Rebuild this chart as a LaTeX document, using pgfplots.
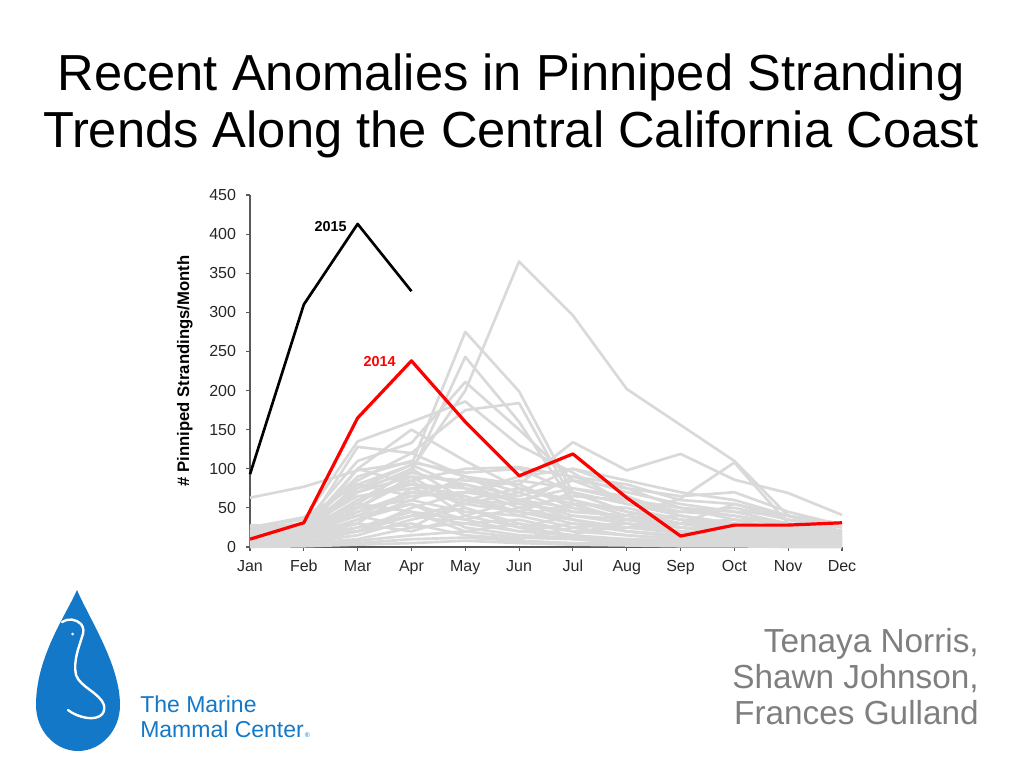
\documentclass[border=0pt]{standalone}
\usepackage{fontspec}
\setmainfont{Liberation Sans}
\usepackage{pgfplots}
\usepackage{pgfplotstable}
\pgfplotsset{compat=1.18}

\definecolor{gline}{HTML}{D9D9D9}
\definecolor{axgray}{HTML}{595959}
\definecolor{logoblue}{HTML}{1478C8}
\definecolor{authgray}{HTML}{7F7F7F}

% one row per year (gray background years), Jan..Dec strandings
\pgfplotstableread{
yr  Jan Feb Mar Apr May Jun Jul Aug Sep Oct Nov Dec
g1  20  25  55  100 200 365 296 202 156 110 40  20
g2  63  77  98  108 95  100 70  45  35  30  22  15
g3  12  18  75  105 275 199 69  45  30  22  15  8
g4  8   15  60  95  243 160 55  35  25  18  10  5
g5  22  30  110 133 211 150 85  60  45  40  30  18
g6  25  35  135 160 186 130 95  55  40  30  25  15
g7  15  22  70  90  85  80  134 98  119 86  69  41
g8  18  28  85  120 175 184 60  40  30  25  20  12
g9  10  20  128 120 90  80  50  35  25  20  15  10
g10 10  15  100 150 110 75  60  45  30  20  12  8
g11 12  18  40  70  60  55  45  40  62  108 30  20
g12 20  30  50  85  100 102 90  70  55  45  30  20
g13 15  25  90  110 90  70  100 75  50  40  25  15
g14 8   12  30  75  80  55  90  80  60  55  35  20
g15 5   10  20  50  70  85  75  65  40  30  20  10
g16 25  38  80  65  70  60  40  30  25  20  15  10
g17 10  5   20  40  55  45  30  25  20  15  10  5
g18 3   5   10  25  30  20  15  10  8   5   3   2
g19 15  20  60  80  75  50  35  20  15  10  8   5
g20 20  15  35  60  45  40  55  50  35  25  18  12
g21 5   8   25  40  30  35  20  15  10  8   5   5
g22 12  10  45  70  65  40  25  30  20  15  12  8
g23 2   3   8   15  20  12  10  5   5   3   2   2
g24 18  22  70  100 60  45  70  55  45  50  35  25
g25 7   12  50  90  50  30  20  25  30  35  20  12
g26 28  25  40  55  35  50  65  60  50  45  40  30
g27 14  18  30  20  40  60  35  20  15  20  25  20
g28 4   6   15  35  50  25  40  35  25  15  10  8
g29 22  25  65  75  55  70  45  40  30  25  20  15
g30 9   14  55  45  35  20  30  20  12  10  6   4
g31 16  20  80  105 75  60  50  35  30  55  40  25
g32 1   2   5   10  12  8   5   4   3   2   1   1
g33 11  18  40  25  60  75  55  30  20  12  10  8
g34 6   9   35  55  25  15  12  10  8   20  15  10
g35 20  26  75  95  80  65  85  75  65  70  45  28
g36 13  16  20  30  15  10  25  15  10  5   5   3
g37 24  30  50  60  90  60  75  60  50  35  30  20
g38 3   8   60  85  40  25  15  35  40  25  20  18
g39 17  23  100 80  65  45  35  25  18  15  12  10
g40 10  14  25  45  20  30  10  8   6   10  8   6
g41 0   1   3   5   8   5   3   2   1   1   0   0
g42 19  24  45  65  70  90  100 85  70  60  40  25
}\raw
\pgfplotstabletranspose[colnames from=yr]\data\raw

\begin{document}
\begin{tikzpicture}[x=0.75pt,y=0.75pt]
\useasboundingbox (0,0) rectangle (1020,765);

% ---------- title ----------
\node[anchor=base, inner sep=0pt, font=\fontsize{38}{42}\selectfont] at (511,674)
  {Recent Anomalies in Pinniped Stranding};
\node[anchor=base, inner sep=0pt, font=\fontsize{38}{42}\selectfont] at (511,617)
  {Trends Along the Central California Coast};

% ---------- chart ----------
\begin{axis}[
  at={(187.5pt,163.5pt)}, anchor=south west,
  scale only axis, width=444pt, height=264pt,
  xmin=0, xmax=11, ymin=0, ymax=450,
  axis lines*=left,
  axis line style={axgray, line width=0.8pt},
  xtick={0,...,11},
  xticklabels={Jan,Feb,Mar,Apr,May,Jun,Jul,Aug,Sep,Oct,Nov,Dec},
  ytick={0,50,...,450},
  tick align=outside,
  major tick length=3pt,
  tick style={axgray, line width=0.8pt},
  /pgf/number format/assume math mode=true,
  ticklabel style={font=\fontsize{12}{12}\selectfont, text=black!85},
  xticklabel style={yshift=-3pt, text height=8.6pt, text depth=2.6pt},
  yticklabel style={xshift=-4pt},
  ylabel={\# Pinniped Strandings/Month},
  every axis y label/.style={at={(axis description cs:-0.11,0.5)}, rotate=90,
    anchor=center, font=\fontsize{12.5}{12.5}\selectfont\bfseries},
  clip=false,
]
\pgfplotsinvokeforeach{1,...,42}{
  \addplot[gline, line width=2pt, line join=round] table[x expr=\coordindex, y=g#1]{\data};
}
% 2014
\addplot[red, line width=2.4pt, line join=round] coordinates {
  (0,10) (1,31) (2,165) (3,238) (4,160) (5,91) (6,119) (7,63) (8,14) (9,28) (10,28) (11,31)
};
% 2015
\addplot[black, line width=2pt, line join=round] coordinates {
  (0,93) (1,310) (2,413) (3,327)
};
\node[anchor=base east, font=\fontsize{10.8}{10.8}\selectfont\bfseries, inner sep=0pt]
  at (axis cs:1.8,403) {2015};
\node[anchor=east, font=\fontsize{10.8}{10.8}\selectfont\bfseries, text=red, inner sep=0pt]
  at (axis cs:2.71,237) {2014};
\end{axis}

% ---------- logo ----------
\fill[logoblue] (77,175) .. controls (66,150) and (36,108) .. (36,60)
  arc[start angle=180, end angle=360, x radius=42, y radius=46]
  .. controls (120,100) and (90,145) .. (77,175);
\draw[white, line width=1.8pt, line cap=round, line join=round]
  (62,143) .. controls (68,147) and (76,146) .. (81,141)
  .. controls (84,137) and (84,133) .. (82,128)
  .. controls (79,118) and (73,104) .. (76,90)
  .. controls (80,78) and (100,72) .. (104,60)
  .. controls (106,50) and (98,46) .. (88,47)
  .. controls (80,48) and (73,51) .. (68,55);
\fill[white] (72.7,131) circle (1.5);
\node[anchor=base west, inner sep=0pt, text=logoblue, font=\fontsize{17.25}{17.25}\selectfont]
  at (140,53) {The Marine};
\node[anchor=base west, inner sep=0pt, text=logoblue, font=\fontsize{17.25}{17.25}\selectfont]
  at (140,28) {Mammal Center{\fontsize{5}{5}\selectfont\,®}};

% ---------- authors ----------
\node[anchor=base east, inner sep=0pt, text=authgray, font=\fontsize{25}{25}\selectfont]
  at (979,113) {Tenaya Norris,};
\node[anchor=base east, inner sep=0pt, text=authgray, font=\fontsize{25}{25}\selectfont]
  at (979,77) {Shawn Johnson,};
\node[anchor=base east, inner sep=0pt, text=authgray, font=\fontsize{25}{25}\selectfont]
  at (979,41) {Frances Gulland};
\end{tikzpicture}
\end{document}
